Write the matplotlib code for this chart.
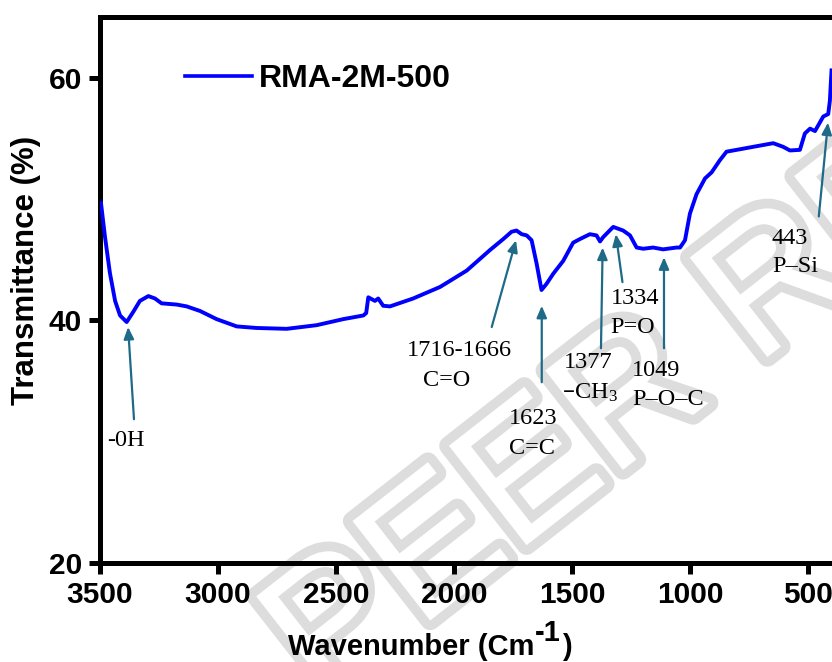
import matplotlib
matplotlib.use('Agg')
import matplotlib.pyplot as plt
from matplotlib.lines import Line2D
import matplotlib.patheffects as pe

# ---------------- data ----------------
wavenumber = [3496, 3479, 3458, 3436, 3415, 3387, 3359, 3331, 3295, 3267, 3239, 3175,
              3133, 3076, 3006, 2935, 2921, 2836, 2709, 2582, 2469, 2384, 2372, 2363,
              2335, 2321, 2300, 2271, 2173, 2059, 1946, 1847, 1791, 1756, 1735, 1713,
              1692, 1671, 1650, 1629, 1608, 1579, 1537, 1495, 1466, 1424, 1396, 1381,
              1368, 1325, 1283, 1254, 1226, 1198, 1156, 1114, 1057, 1042, 1021, 1000,
              972, 936, 908, 873, 845, 788, 732, 647, 605, 576, 534, 513, 491, 470,
              435, 414, 407, 400]
transmittance = [49.7, 46.9, 43.9, 41.6, 40.4, 39.86, 40.7, 41.6, 42.0, 41.8, 41.4, 41.3,
                 41.15, 40.77, 40.1, 39.6, 39.5, 39.37, 39.3, 39.6, 40.1, 40.4, 40.6, 41.9,
                 41.6, 41.8, 41.2, 41.15, 41.8, 42.75, 44.1, 45.8, 46.7, 47.3, 47.4, 47.1,
                 47.0, 46.6, 44.7, 42.5, 43.0, 43.85, 44.9, 46.4, 46.7, 47.1, 47.0, 46.5,
                 46.85, 47.7, 47.4, 47.0, 46.0, 45.9, 46.0, 45.85, 46.0, 46.0, 46.6, 48.8,
                 50.4, 51.7, 52.2, 53.2, 53.9, 54.1, 54.3, 54.6, 54.3, 54.0, 54.05, 55.4,
                 55.8, 55.6, 56.8, 57.0, 58.1, 60.6]
series_label = 'RMA-2M-500'
x_ticks = [3500, 3000, 2500, 2000, 1500, 1000, 500]
y_ticks = [20, 40, 60]

# annotation arrows: tip (x, y) and tail (x, y) in data units
arrow_tips = [(3381, 39.45), (1737, 46.6), (1628, 41.2), (1370, 46.0), (1314, 47.1),
              (1110, 45.2), (415, 56.3)]
arrow_tails = [(3356, 31.85), (1840, 39.45), (1628, 34.9), (1377, 37.7), (1286, 43.15),
               (1110, 37.7), (454, 48.56)]
# annotation texts: (text, x, y, ha)
ann_texts = [('-0H', 3470, 30.1, 'left'),
             ('1716-1666', 1975, 37.5, 'center'), ('C=O', 2030, 35.06, 'center'),
             ('1623', 1665, 31.9, 'center'), ('C=C', 1669, 29.47, 'center'),
             ('1377', 1432, 36.5, 'center'), ('\u2013CH$\\mathdefault{_3}$', 1424, 34.0, 'center'),
             ('1334', 1233, 41.8, 'center'), ('P=O', 1242, 39.4, 'center'),
             ('1049', 1144, 35.9, 'center'), ('P\u2013O\u2013C', 1093, 33.5, 'center'),
             ('443', 576, 46.75, 'center'), ('P\u2013Si', 555, 44.4, 'center')]

W, H = 832, 662
fig = plt.figure(figsize=(W / 100, H / 100), dpi=100)
ax = fig.add_axes([100 / W, 1 - 563 / H, 732 / W, (563 - 17) / H])

sans = 'Liberation Sans'
serif = 'Liberation Serif'
arrow_color = '#1e6a88'

# watermark (hollow letters)
ax.text(322 / W, 1 - 705 / H, 'PEER REVIEW', transform=fig.transFigure, rotation=38,
        rotation_mode='anchor', fontsize=132, family=sans, color='white',
        ha='left', va='baseline', zorder=0.2, clip_on=False,
        path_effects=[pe.Stroke(linewidth=14, foreground='#dddddd'), pe.Normal()])

ax.plot(wavenumber, transmittance, color='#0000ff', lw=2.8, zorder=3, solid_joinstyle='round')

for tip, tail in zip(arrow_tips, arrow_tails):
    ax.annotate('', xy=tip, xytext=tail,
                arrowprops=dict(arrowstyle='-|>,head_length=0.7,head_width=0.3',
                                color=arrow_color, lw=1.6, shrinkA=0, shrinkB=0),
                zorder=4)
for t, x, y, ha in ann_texts:
    ax.text(x, y, t, family=serif, fontsize=17.5, ha=ha, va='center', zorder=5)

ax.set_xlim(3500, 398)
ax.set_ylim(20, 65)
ax.set_xticks(x_ticks)
ax.set_yticks(y_ticks)
ax.spines['right'].set_visible(False)
for s in ['left', 'top', 'bottom']:
    ax.spines[s].set_linewidth(3.6)
ax.tick_params(axis='both', direction='out', length=8, width=3.6, pad=5, labelsize=21.5)
for lab in ax.get_xticklabels() + ax.get_yticklabels():
    lab.set_fontfamily(sans)
    lab.set_fontweight('bold')

# y label
fig.text(26 / W, 1 - 270 / H, 'Transmittance (%)', rotation=90, ha='center', va='center',
         family=sans, fontweight='bold', fontsize=22.5)

# x label with superscript
fig.canvas.draw()
r = fig.canvas.get_renderer()
base_y = 1 - 655 / H
t1 = fig.text(288 / W, base_y, 'Wavenumber (Cm', ha='left', va='baseline',
              family=sans, fontweight='bold', fontsize=21)
b1 = t1.get_window_extent(r)
t2 = fig.text((b1.x1 + 1) / W, base_y + 14 / H, '-1', ha='left', va='baseline',
              family=sans, fontweight='bold', fontsize=21)
b2 = t2.get_window_extent(r)
fig.text((b2.x1 + 1) / W, base_y, ')', ha='left', va='baseline',
         family=sans, fontweight='bold', fontsize=21)

handle = Line2D([], [], color='#0000ff', lw=2.6)
leg = ax.legend([handle], [series_label], loc='upper left', bbox_to_anchor=(0.116, 0.9145),
                frameon=False, handlelength=2.1, handletextpad=0.2, borderpad=0,
                borderaxespad=0, prop=dict(family=sans, weight='bold', size=23))

fig.savefig('out.png', dpi=100)
